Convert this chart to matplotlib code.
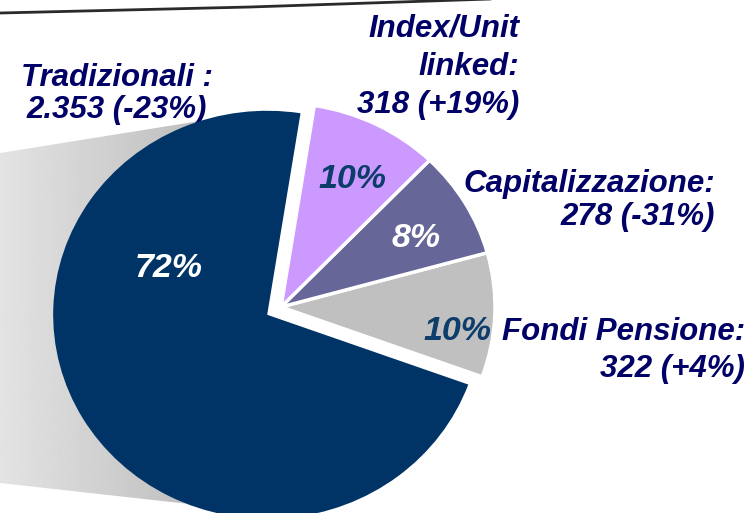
import numpy as np
import matplotlib
matplotlib.use("Agg")
import matplotlib.pyplot as plt
from matplotlib.patches import Polygon

# data
categories = ["Fondi Pensione", "Capitalizzazione", "Index/Unit linked", "Tradizionali"]
values = [322, 278, 318, 2353]
changes = ["+4%", "-31%", "+19%", "-23%"]
shares = ["10%", "8%", "10%", "72%"]
colors = ["#c0c0c0", "#666699", "#cc99ff", "#003366"]

W, H = 753, 513
plt.rcParams['font.family'] = ['Liberation Sans', 'DejaVu Sans']

fig = plt.figure(figsize=(W / 100, H / 100), dpi=100)
# background axes in pixel units (y up)
ax = fig.add_axes([0, 0, 1, 1])
ax.set_xlim(0, W)
ax.set_ylim(0, H)
ax.axis("off")

def Y(y):  # image row -> axes y
    return H - y

# grey gradient "shadow" behind the big slice
shadow = Polygon([(0, Y(153)), (262, Y(111)), (225, Y(508)), (0, Y(483))],
                 closed=True, facecolor="none", edgecolor="none")
ax.add_patch(shadow)
grad = np.linspace(0.89, 0.70, 256).reshape(1, -1)
im = ax.imshow(grad, cmap="gray", vmin=0, vmax=1, extent=[0, 262, Y(513), Y(100)],
               aspect="auto", zorder=1)
im.set_clip_path(shadow)

# thin rule at the top
ax.plot([0, 250, 490], [Y(13), Y(7), Y(-1)], color="#2a2a2a", lw=2, zorder=2)

# pie (slightly wider than tall, as in the original slide)
cx, cy, rx, ry = 281, 307, 214, 204
pax = fig.add_axes([(cx - rx) / W, (H - cy - ry) / H, 2 * rx / W, 2 * ry / H])
wedges, _ = pax.pie(values, colors=colors, startangle=-20, counterclock=True,
                    radius=1, explode=[0, 0, 0, 0.075],
                    wedgeprops=dict(edgecolor="white", linewidth=2.5), frame=True)
wedges[-1].set_linewidth(0)
pax.set_xlim(-1, 1)
pax.set_ylim(-1, 1)
pax.set_aspect("auto")
pax.axis("off")
for w in wedges:
    w.set_clip_on(False)

navy = "#000066"
fs = 22.5
lab = dict(fontsize=fs, fontweight="bold", fontstyle="italic", color=navy,
           va="baseline", zorder=5, transform=ax.transData)

# category labels (y = baseline of the last line)
ax.text(117, Y(118), "Tradizionali :\n2.353 (%s)" % changes[3], ha="center",
        multialignment="center", linespacing=1.08, **lab)
ax.text(519, Y(113), "Index/Unit\nlinked:\n%d (%s)" % (values[2], changes[2]), ha="right",
        multialignment="right", linespacing=1.36, **lab)
ax.text(715, Y(225), "Capitalizzazione:\n%d (%s)" % (values[1], changes[1]), ha="right",
        multialignment="right", linespacing=1.15, **lab)
ax.text(745, Y(377), "Fondi Pensione:\n%d (%s)" % (values[0], changes[0]), ha="right",
        multialignment="right", linespacing=1.29, **lab)

# share labels
pct = dict(fontsize=24.5, fontweight="bold", fontstyle="italic", ha="center",
           va="baseline", zorder=6)
fig.text(169 / W, 1 - 277 / H, shares[3], color="white", **pct)
fig.text(352 / W, 1 - 188 / H, shares[2], color="#0d3d6b", **pct)
fig.text(416 / W, 1 - 247 / H, shares[1], color="white", **pct)
fig.text(457 / W, 1 - 340 / H, shares[0], color="#0d3d6b", **pct)

fig.savefig("out.png", dpi=100)
